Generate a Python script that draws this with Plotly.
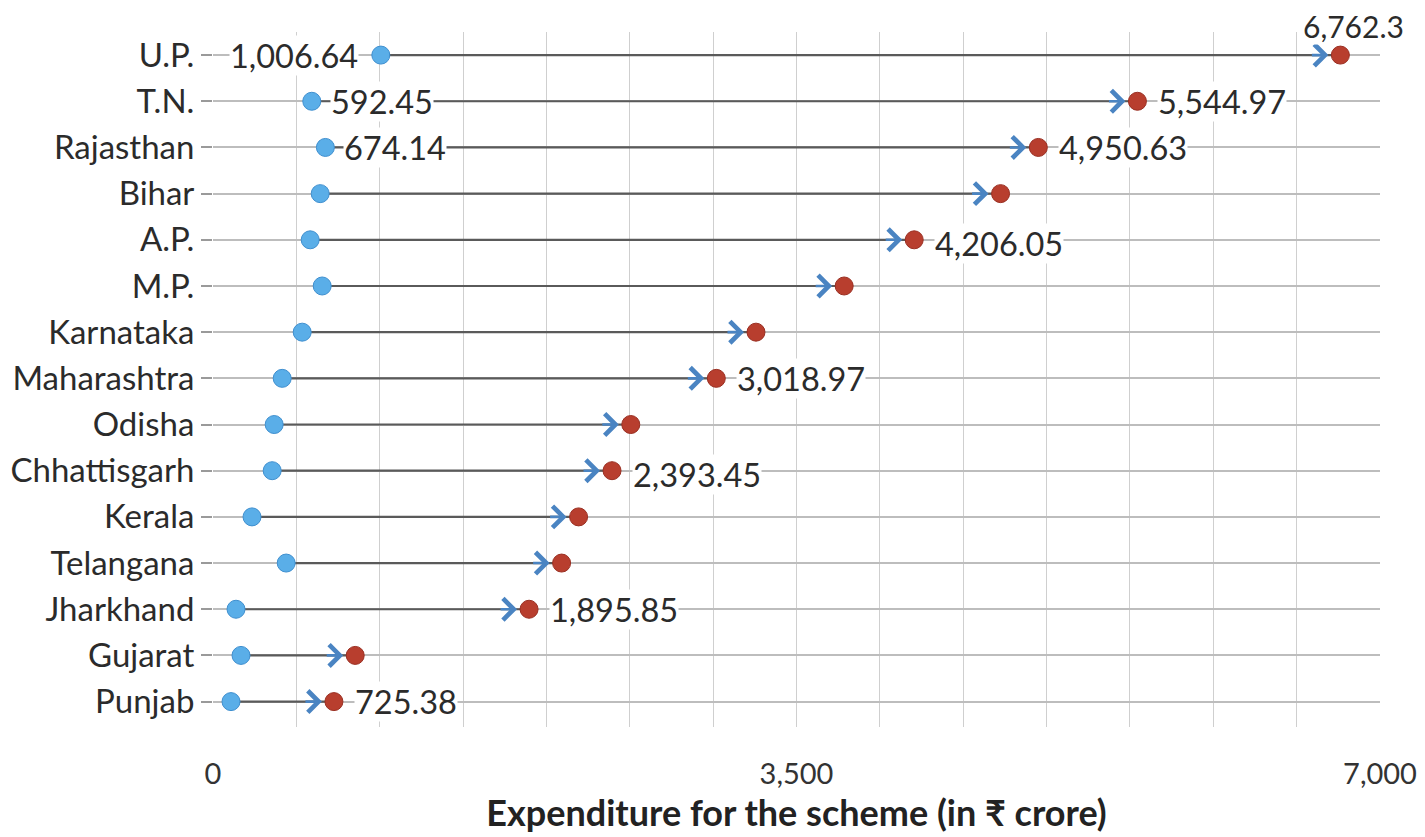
import plotly.graph_objects as go

states = ["U.P.", "T.N.", "Rajasthan", "Bihar", "A.P.", "M.P.", "Karnataka",
          "Maharashtra", "Odisha", "Chhattisgarh", "Kerala", "Telangana",
          "Jharkhand", "Gujarat", "Punjab"]
start_vals = [1006.64, 592.45, 674.14, 643, 583, 655, 535, 415, 367, 355, 234, 439, 138, 168, 108]
end_vals = [6762.3, 5544.97, 4950.63, 4724, 4206.05, 3786, 3257, 3018.97, 2506, 2393.45, 2193, 2091, 1895.85, 853, 725.38]

# which points carry a value label
start_labelled = ["U.P.", "T.N.", "Rajasthan"]
end_labelled = ["U.P.", "T.N.", "Rajasthan", "A.P.", "Maharashtra", "Chhattisgarh", "Jharkhand", "Punjab"]

x_ticks = [0, 3500, 7000]
x_tick_text = ["0", "3,500", "7,000"]

FONT = "Lato, 'Noto Sans', sans-serif"
BLUE = "#5aaee8"
BLUE_EDGE = "#3f8fcf"
RED = "#b83e2e"
RED_EDGE = "#9a2f22"
ARROW = "#4a84c2"
LINE = "#5a5a5a"
TXT = "#2b2b2b"
LBL = 32.5

fig = go.Figure()

# connecting lines
lx, ly = [], []
for s, a, b in zip(states, start_vals, end_vals):
    lx += [a, b, None]
    ly += [s, s, None]
fig.add_trace(go.Scatter(x=lx, y=ly, mode="lines", line=dict(color=LINE, width=2.2),
                         hoverinfo="skip", showlegend=False))

fig.add_trace(go.Scatter(x=start_vals, y=states, mode="markers",
                         marker=dict(size=18, color=BLUE, line=dict(color=BLUE_EDGE, width=1)),
                         showlegend=False, cliponaxis=False))
fig.add_trace(go.Scatter(x=end_vals, y=states, mode="markers",
                         marker=dict(size=18, color=RED, line=dict(color=RED_EDGE, width=1)),
                         showlegend=False, cliponaxis=False))

# arrow heads
for s, b in zip(states, end_vals):
    fig.add_annotation(x=b, y=s, ax=-30, ay=0, showarrow=True, arrowhead=4,
                       arrowsize=1.6, arrowwidth=2.6, arrowcolor=ARROW, standoff=12, text="")

def fmt(v):
    return f"{v:,.2f}"

# start labels
for s, v in zip(states, start_vals):
    if s in start_labelled:
        if s == "U.P.":
            fig.add_annotation(x=v, y=s, text=fmt(v), showarrow=False, xanchor="right",
                               xshift=-22, bgcolor="white", borderpad=0,
                               font=dict(family=FONT, size=LBL, color=TXT))
        else:
            fig.add_annotation(x=v, y=s, text=fmt(v), showarrow=False, xanchor="left",
                               xshift=18, bgcolor="white", borderpad=0,
                               font=dict(family=FONT, size=LBL, color=TXT))

# end labels
for s, v in zip(states, end_vals):
    if s in end_labelled:
        if s == "U.P.":
            fig.add_annotation(x=v, y=s, text="6,762.3", showarrow=False, xanchor="left",
                               yanchor="bottom", xshift=-38, yshift=10, bgcolor="white",
                               borderpad=0, font=dict(family=FONT, size=30, color=TXT))
        else:
            ys = -4 if s in ("A.P.", "Chhattisgarh") else 0
            fig.add_annotation(x=v, y=s, text=fmt(v), showarrow=False, xanchor="left",
                               xshift=20, yshift=ys, bgcolor="white", borderpad=0,
                               font=dict(family=FONT, size=LBL, color=TXT))

fig.update_layout(
    width=1417, height=829,
    margin=dict(l=205, r=45, t=24, b=110),
    paper_bgcolor="white", plot_bgcolor="white",
    font=dict(family=FONT, size=30, color=TXT),
)
fig.update_xaxes(range=[0, 7000], tickvals=x_ticks, ticktext=x_tick_text, automargin=False,
                 showgrid=True, gridcolor="#cfcfcf", gridwidth=1.2,
                 minor=dict(dtick=500, tick0=0, showgrid=True, gridcolor="#cfcfcf", gridwidth=1.2),
                 zeroline=False, showline=False, ticks="", ticklabelstandoff=27,
                 tickfont=dict(family=FONT, size=29, color="#333"),
                 title=dict(text="<b>Expenditure for the scheme (in ₹ crore)</b>",
                            font=dict(family=FONT, size=36, color="#222"), standoff=7))
fig.update_yaxes(categoryorder="array", categoryarray=states, range=[14.55, -0.5],
                 automargin=False,
                 showgrid=True, gridcolor="#bdbdbd", gridwidth=1.5, zeroline=False,
                 ticks="outside", ticklen=11, tickcolor="#9a9a9a", tickwidth=1.5,
                 tickfont=dict(family=FONT, size=33, color=TXT), showline=False)

fig.write_html("out.html")
